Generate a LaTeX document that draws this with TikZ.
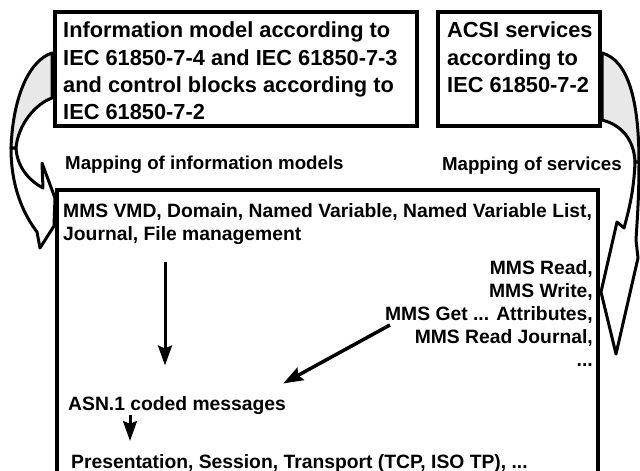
\documentclass[tikz,border=0pt]{standalone}
\usepackage{fontspec}
\setmainfont{Liberation Sans}
\usetikzlibrary{arrows.meta,positioning,calc}

\begin{document}
\begin{tikzpicture}[x=1pt,y=-1pt,>={Stealth[length=20pt,width=14pt,inset=3pt]},
  frame/.style={draw,line width=3.5pt,outer sep=0pt,inner sep=0pt,anchor=north west},
  boxtxt/.style={font=\fontsize{21.8pt}{27.3pt}\selectfont\bfseries,align=left,inner sep=0pt},
  maptxt/.style={font=\fontsize{18.7pt}{22pt}\selectfont\bfseries,inner sep=0pt},
  mmstxt/.style={font=\fontsize{19.3pt}{23pt}\selectfont\bfseries,inner sep=0pt},
  arr/.style={->,line width=3pt},
  band/.style={draw,line width=3pt,line join=round,fill=white},
  backband/.style={band,fill=gray!18}]

  \useasboundingbox (0,0) rectangle (640,471);
  \clip (0,0) rectangle (640,471);

  % ---------- curved mapping arrows ----------
  \draw[backband] (52,53) .. controls (30,60) and (13,95) .. (11,148) -- (16,148)
    .. controls (18,125) and (35,104) .. (52,98) -- cycle;
  \draw[band] (11,148) .. controls (11,185) and (22,212) .. (37,232) -- (40,248) -- (54,226)
    -- (55,198) -- (42,163) -- (43,188) .. controls (28,180) and (17,166) .. (16,148) -- cycle;

  \draw[backband] (602,53) .. controls (628,60) and (639,100) .. (639,162) -- (635,162)
    .. controls (634,140) and (622,125) .. (602,120) -- cycle;
  \draw[band] (639,162) .. controls (639,200) and (637,222) .. (636,240) -- (638,258) -- (616,354)
    -- (601,292) -- (617,222) -- (624,228) .. controls (629,210) and (634,190) .. (635,162) -- cycle;

  % ---------- frames ----------
  \node[frame,minimum width=362pt,minimum height=114pt] (info) at (55,12) {};
  \node[frame,minimum width=162pt,minimum height=114pt,below right=0pt and 21pt of info.north east] (acsi) {};
  \node[frame,minimum width=541pt,minimum height=300pt,below right=64pt and 2pt of info.south west] (mms) {};

  % ---------- box texts ----------
  \node[boxtxt,below right=10pt and 8pt of info.north west] (infotxt)
    {Information model according to\\IEC 61850-7-4 and IEC 61850-7-3\\and control blocks according to\\IEC 61850-7-2};
  \node[boxtxt,below right=10pt and 9pt of acsi.north west] (acsitxt)
    {ACSI services\\according to\\IEC 61850-7-2};

  % ---------- mapping labels ----------
  \node[maptxt,above right=16pt and 8pt of mms.north west] (mapinfo) {Mapping of information models};
  \node[maptxt,anchor=base east] (mapsvc) at (622,170) {Mapping of services};

  % ---------- MMS side ----------
  \node[mmstxt,align=left,below right=13pt and 6pt of mms.north west] (vmd)
    {MMS VMD, Domain, Named Variable, Named Variable List,\\Journal, File management};
  \node[mmstxt,align=right,below left=70pt and 5pt of mms.north east] (svcs)
    {MMS Read,\\MMS Write,\\MMS Get ... Attributes,\\MMS Read Journal,\\...};
  \node[mmstxt,below right=152pt and 5pt of vmd.south west] (asn) {ASN.1 coded messages};
  \node[mmstxt,below right=39pt and 3pt of asn.south west] (pres)
    {Presentation, Session, Transport (TCP, ISO TP), ...};

  % ---------- arrows ----------
  \draw[arr] ([xshift=102pt,yshift=-18pt]vmd.south west) -- ([xshift=97pt,yshift=31pt]asn.north west);
  \draw[arr] ([xshift=62pt]asn.south west) -- ([xshift=59pt,yshift=13pt]pres.north west);
  \draw[arr,line width=3.5pt] ([xshift=5pt,yshift=-65pt]svcs.north west) -- ([xshift=-3pt,yshift=13pt]asn.north east);
\end{tikzpicture}
\end{document}
